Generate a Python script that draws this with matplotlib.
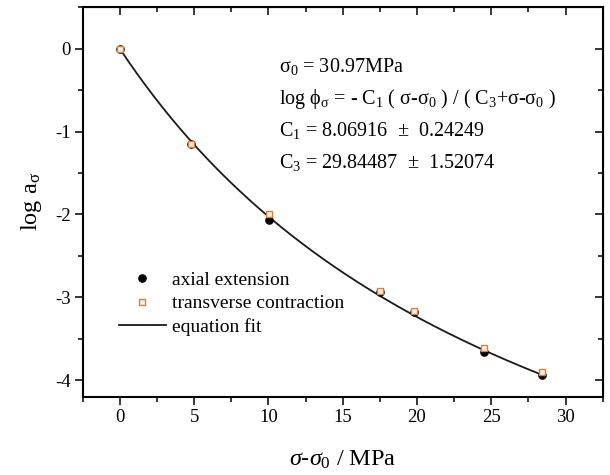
import numpy as np
import matplotlib
matplotlib.use("Agg")
import matplotlib.pyplot as plt

plt.rcParams['font.family'] = ['Liberation Serif', 'DejaVu Serif']
plt.rcParams['mathtext.fontset'] = 'custom'
plt.rcParams['mathtext.rm'] = 'Liberation Serif'
plt.rcParams['mathtext.it'] = 'Liberation Serif:italic'
plt.rcParams['mathtext.default'] = 'regular'
plt.rcParams['axes.unicode_minus'] = False

# data
stress = [0, 4.8, 10.05, 17.5, 19.8, 24.5, 28.4]          # sigma - sigma0 (MPa)
log_a_axial = [0, -1.15, -2.07, -2.94, -3.18, -3.66, -3.94]
log_a_trans = [0, -1.15, -2.00, -2.93, -3.17, -3.61, -3.90]

# fit constants shown on the chart
C1 = 8.06916
C3 = 29.84487
fit_x = np.linspace(0, 28.5, 200)
fit_y = -C1 * fit_x / (C3 + fit_x)

info_lines = [
    'σ$_0$ = 30.97MPa',
    'log ϕ$_σ$ = - C$_1$ ( σ-σ$_0$ ) / ( C$_3$+σ-σ$_0$ )',
    'C$_1$ = 8.06916  ±  0.24249',
    'C$_3$ = 29.84487  ±  1.52074',
]

fig = plt.figure(figsize=(6.1, 4.75), dpi=100)
ax = fig.add_axes([0.1356, 0.1648, 0.988 - 0.1356, 0.9846 - 0.1648])

ax.plot(fit_x, fit_y, color='#1a1a1a', lw=1.3, label='equation fit', zorder=2)
ax.plot(stress, log_a_axial, 'o', color='black', ms=5.2, ls='none',
        label='axial extension', zorder=3)
ax.plot(stress, log_a_trans, 's', mfc='#fff3e6', mec='#e07b3c', mew=1.0,
        ms=4.5, ls='none', label='transverse contraction', zorder=4)

ax.set_xlim(-2.5, 32.5)
ax.set_ylim(-4.2, 0.5)
ax.set_xticks([0, 5, 10, 15, 20, 25, 30])
ax.set_xticks(np.arange(-2.5, 33, 2.5), minor=True)
ax.set_yticks([-4, -3, -2, -1, 0])
ax.set_yticks(np.arange(-4, 0.6, 0.5), minor=True)
ax.tick_params(which='both', direction='out', width=1.1, labelsize=13.5)
ax.tick_params(which='major', length=5.5)
ax.tick_params(which='minor', length=3.5)
ax.tick_params(axis='x', pad=3.5)
ax.tick_params(axis='y', pad=3)
for sp in ax.spines.values():
    sp.set_linewidth(1.5)

# inward ticks on the top and right
top = ax.secondary_xaxis('top')
top.set_xticks([0, 5, 10, 15, 20, 25, 30])
top.set_xticks(np.arange(-2.5, 33, 2.5), minor=True)
top.tick_params(which='both', direction='in', width=1.1, labeltop=False)
top.tick_params(which='major', length=5.5)
top.tick_params(which='minor', length=3.5)
right = ax.secondary_yaxis('right')
right.set_yticks([-4, -3, -2, -1, 0])
right.set_yticks(np.arange(-4, 0.6, 0.5), minor=True)
right.tick_params(which='both', direction='in', width=1.1, labelright=False)
right.tick_params(which='major', length=5.5)
right.tick_params(which='minor', length=3.5)

ax.set_xlabel(r'$\mathit{σ}$-$\mathit{σ}_0$ / MPa', fontsize=17.5, labelpad=16)
ax.set_ylabel('log a$_σ$', fontsize=17.5, labelpad=8)

for i, line in enumerate(info_lines):
    ax.text(0.378, 0.834 - i * 0.0825, line, transform=ax.transAxes,
            fontsize=14.5, va='baseline', ha='left')

h, l = ax.get_legend_handles_labels()
order = [1, 2, 0]
ax.legend([h[i] for i in order], [l[i] for i in order], loc='upper left',
          bbox_to_anchor=(0.07, 0.322), frameon=False, fontsize=14,
          handlelength=2.4, handletextpad=0.3, labelspacing=0.3,
          borderpad=0, borderaxespad=0)

fig.savefig('out.png', dpi=100)
